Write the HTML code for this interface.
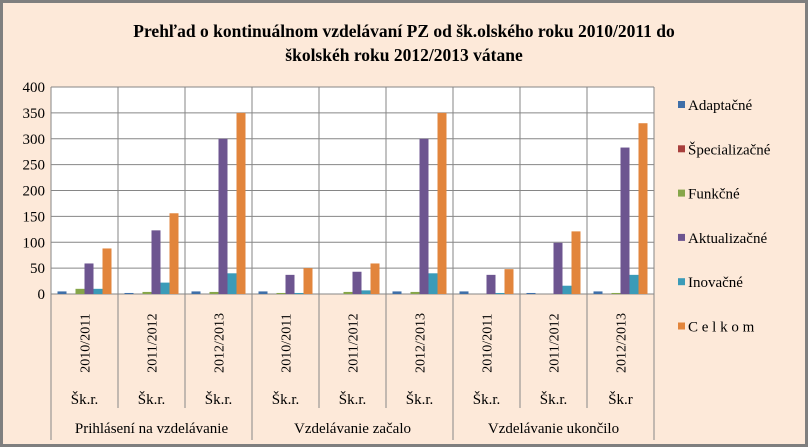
<!DOCTYPE html>
<html><head><meta charset="utf-8"><style>
html,body{margin:0;padding:0;background:#fff}
svg{display:block}
text{font-family:"Liberation Serif",serif;fill:#000}
</style></head><body>
<svg id="chart" width="808" height="447">
<rect x="1.5" y="1.5" width="805" height="444" fill="#fde9d9" stroke="#7f7f7f" stroke-width="3"/>
<text x="404" y="37" font-size="17.5" font-weight="bold" text-anchor="middle">Prehľad  o kontinuálnom  vzdelávaní PZ od šk.olského roku 2010/2011 do</text>
<text x="404" y="61" font-size="17.5" font-weight="bold" text-anchor="middle">školskéh roku 2012/2013 vátane</text>
<rect x="51" y="87" width="603" height="207" fill="#fff"/>
<g id="grid"></g><g id="bars"></g><g id="axis"></g><g id="legend"></g>
</svg>
<script>
const years=["2010/2011","2011/2012","2012/2013","2010/2011","2011/2012","2012/2013","2010/2011","2011/2012","2012/2013"];
const prefixes=["Šk.r.","Šk.r.","Šk.r.","Šk.r.","Šk.r.","Šk.r.","Šk.r.","Šk.r.","Šk.r"];
const groups=["Prihlásení na vzdelávanie","Vzdelávanie začalo","Vzdelávanie ukončilo"];
const seriesNames=["Adaptačné","Špecializačné","Funkčné","Aktualizačné","Inovačné","C e l k o m"];
const adaptacne=[5,2,5,5,0,5,5,2,5];
const specializacne=[0,0,0,0,0,0,0,0,0];
const funkcne=[10,4,4,2,4,4,0,0,2];
const aktualizacne=[59,123,300,37,43,300,37,99,283];
const inovacne=[10,22,40,2,7,40,2,16,37];
const celkom=[88,156,350,50,59,350,48,121,330];
const yTicks=[0,50,100,150,200,250,300,350,400];
const series=[adaptacne,specializacne,funkcne,aktualizacne,inovacne,celkom];
const colors=["#3f6fa8","#a83f3c","#86a64a","#6d5590","#3b9bb8","#e2853c"];
const NS="http://www.w3.org/2000/svg";
const X0=51,X1=654,Y0=294,Y1=87,YMAX=400;
const catW=(X1-X0)/years.length;
const y=v=>Y0-(v/YMAX)*(Y0-Y1);
const cx=i=>X0+i*catW;
function mk(tag,attrs,parent){const e=document.createElementNS(NS,tag);for(const k in attrs)e.setAttribute(k,attrs[k]);parent.appendChild(e);return e;}
const grid=document.getElementById('grid'),bars=document.getElementById('bars'),axis=document.getElementById('axis'),legend=document.getElementById('legend');
yTicks.forEach(t=>{
 const l=mk('line',{x1:X0,x2:X1,y1:y(t),y2:y(t),stroke:'#868686','stroke-width':1},grid);
 
 
 const tx=mk('text',{x:X0-6,y:y(t)+5,'font-size':15,'text-anchor':'end'},axis);
 tx.textContent=t;
 
 
});
for(let i=0;i<=years.length;i++){
 const isGroup=i%3===0;
 const l=mk('line',{x1:cx(i),x2:cx(i),y1:Y1,y2:isGroup?440:408,stroke:'#868686','stroke-width':1},grid);
 
 
}
const bw=9,off=(catW-bw*series.length)/2;
series.forEach((s,si)=>{s.forEach((v,i)=>{
 const r=mk('rect',{x:cx(i)+off+si*bw,y:y(v),width:bw,height:Y0-y(v),fill:colors[si]},bars);
 
 
});});
years.forEach((yr,i)=>{
 const mx=cx(i)+catW/2;
 const t=mk('text',{x:0,y:0,'font-size':14,'text-anchor':'middle',transform:`translate(${mx+5},343) rotate(-90)`},axis);
 t.textContent=yr;
 
 
 const p=mk('text',{x:mx,y:404,'font-size':15,'text-anchor':'middle'},axis);
 p.textContent=prefixes[i];
 
 
});
groups.forEach((g,gi)=>{
 const t=mk('text',{x:cx(gi*3)+1.5*catW,y:433,'font-size':15,'text-anchor':'middle'},axis);
 t.textContent=g;
 
 
});
seriesNames.forEach((n,i)=>{
 const yy=105+i*44.3;
 const r=mk('rect',{x:678,y:yy-4,width:7,height:7,fill:colors[i]},legend);
 
 
 const t=mk('text',{x:688,y:yy+5,'font-size':15},legend);
 t.textContent=n;
 
 
});
</script>
</body></html>
